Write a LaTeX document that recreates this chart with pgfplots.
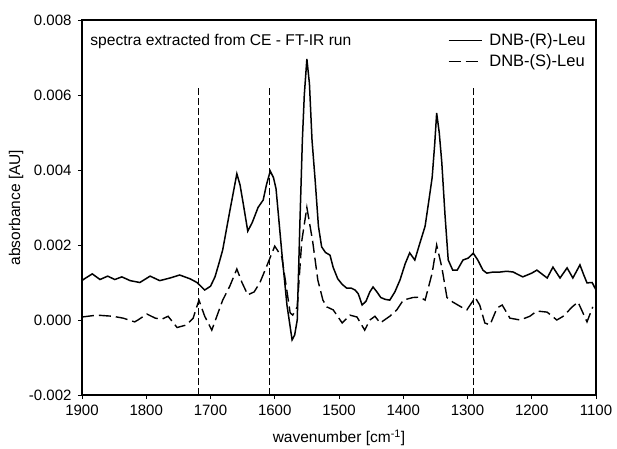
\documentclass[border=0pt]{standalone}
\usepackage{fontspec}
\setmainfont{Liberation Sans}
\usepackage{pgfplots}
\pgfplotsset{compat=1.18}
\begin{document}
\begin{tikzpicture}
\begin{axis}[
  scale only axis, width=514pt, height=375pt,
  xmin=1100, xmax=1900, x dir=reverse,
  ymin=-0.002, ymax=0.008,
  xtick={1100,1200,...,1900},
  ytick={-0.002,0,0.002,0.004,0.006,0.008},
  yticklabels={-0.002,0.000,0.002,0.004,0.006,0.008},
  scaled y ticks=false,
  /pgf/number format/1000 sep={},
  /pgf/number format/assume math mode=true,
  tick align=outside, tick pos=left, major tick length=4pt,
  tick style={black, line width=0.8pt},
  ticklabel style={font=\fontsize{15}{18}\selectfont},
  xticklabel style={yshift=-2pt},
  yticklabel style={xshift=-3pt},
  label style={font=\fontsize{15.5}{18}\selectfont},
  xlabel={wavenumber [cm\textsuperscript{-1}]},
  ylabel={absorbance [AU]},
  xlabel style={at={(axis description cs:0.5,-0.1147)}, anchor=center},
  ylabel style={at={(axis description cs:-0.128,0.5)}, anchor=center},
  axis line style={line width=1.1pt},
  legend style={draw=none, fill=none, at={(0.99,0.975)}, anchor=north east,
    font=\fontsize{16.5}{19}\selectfont, row sep=4pt},
  legend cell align=left,
  legend image code/.code={\draw[#1] (0pt,0pt) -- (33pt,0pt); \path (38pt,0pt);},
]
\addplot[black, line width=1.5pt] coordinates {
(1900,0.00105) (1897,0.00109) (1884,0.00123) (1872,0.00108) (1860,0.00117)
(1849,0.00108) (1838,0.00115) (1825,0.00105) (1810,0.00100) (1794,0.00117)
(1779,0.00105) (1763,0.00112) (1748,0.00120) (1732,0.00110) (1721,0.00100)
(1709,0.00080) (1700,0.00090) (1693,0.00115) (1687,0.00150) (1681,0.00187)
(1670,0.00290) (1659,0.00390) (1654,0.00360) (1649,0.00310) (1642,0.00237)
(1635,0.00260) (1626,0.00300) (1618,0.00320) (1613,0.00360) (1607,0.00397)
(1602,0.00380) (1598,0.00350) (1589,0.00180) (1581,0.00040) (1573,-0.00053)
(1569,-0.00040) (1565,0.00000) (1561,0.00250) (1557,0.00480) (1554,0.00600)
(1550,0.00696) (1546,0.00630) (1542,0.00480) (1537,0.00370) (1532,0.00250)
(1527,0.00195) (1521,0.00180) (1514,0.00173) (1509,0.00140) (1502,0.00110)
(1495,0.00095) (1488,0.00085) (1481,0.00085) (1475,0.00080) (1470,0.00070)
(1464,0.00040) (1458,0.00050) (1452,0.00075) (1447,0.00088) (1441,0.00075)
(1435,0.00060) (1428,0.00055) (1421,0.00053) (1413,0.00075) (1405,0.00107)
(1397,0.00150) (1390,0.00179) (1382,0.00160) (1375,0.00200) (1366,0.00250)
(1360,0.00320) (1355,0.00380) (1351,0.00470) (1348,0.00552) (1344,0.00500)
(1340,0.00420) (1335,0.00280) (1330,0.00160) (1323,0.00133) (1316,0.00133)
(1307,0.00160) (1299,0.00165) (1291,0.00178) (1284,0.00160) (1276,0.00133)
(1270,0.00125) (1260,0.00128) (1249,0.00128) (1239,0.00130) (1229,0.00128)
(1214,0.00115) (1200,0.00125) (1192,0.00133) (1176,0.00112) (1167,0.00141)
(1156,0.00112) (1145,0.00139) (1136,0.00112) (1125,0.00147) (1119,0.00120)
(1114,0.00099) (1106,0.00100) (1100,0.00080)
};
\addlegendentry{DNB-(R)-Leu}
\addplot[black, line width=1.4pt, dash pattern=on 12pt off 5pt] coordinates {
(1900,0.00008) (1877,0.00013) (1852,0.00010) (1836,0.00005) (1818,-0.00005)
(1813,0.00000) (1799,0.00016) (1786,0.00005) (1776,0.00002) (1766,0.00010)
(1752,-0.00020) (1737,-0.00013) (1727,0.00005) (1718,0.00053) (1709,0.00010)
(1698,-0.00027) (1681,0.00053) (1670,0.00090) (1659,0.00136) (1651,0.00100)
(1642,0.00067) (1632,0.00075) (1623,0.00100) (1611,0.00150) (1600,0.00197)
(1589,0.00168) (1583,0.00100) (1576,0.00019) (1572,0.00013) (1565,0.00035)
(1558,0.00210) (1550,0.00300) (1541,0.00210) (1533,0.00107) (1525,0.00053)
(1519,0.00035) (1509,0.00027) (1495,-0.00008) (1483,0.00013) (1472,0.00008)
(1460,-0.00027) (1452,0.00000) (1444,0.00010) (1436,-0.00008) (1421,0.00010)
(1410,0.00027) (1400,0.00053) (1385,0.00060) (1374,0.00061) (1366,0.00053)
(1355,0.00125) (1348,0.00200) (1340,0.00141) (1332,0.00060) (1323,0.00048)
(1307,0.00032) (1301,0.00027) (1288,0.00060) (1281,0.00040) (1273,-0.00008)
(1265,-0.00013) (1254,0.00032) (1246,0.00040) (1234,0.00005) (1218,0.00000)
(1203,0.00010) (1192,0.00024) (1176,0.00021) (1161,0.00000) (1151,0.00010)
(1137,0.00035) (1128,0.00048) (1114,-0.00005) (1105,0.00035)
};
\addlegendentry{DNB-(S)-Leu}
\addplot[forget plot, black, line width=1.1pt, dash pattern=on 7pt off 3pt] coordinates {(1718,-0.002) (1718,0.0062)};
\addplot[forget plot, black, line width=1.1pt, dash pattern=on 7pt off 3pt] coordinates {(1608,-0.002) (1608,0.0062)};
\addplot[forget plot, black, line width=1.1pt, dash pattern=on 7pt off 3pt] coordinates {(1290,-0.002) (1290,0.0062)};
\node[anchor=north west, font=\fontsize{15.6}{18}\selectfont, inner sep=0pt] at (axis description cs:0.016,0.962) {spectra extracted from CE - FT-IR run};
\end{axis}
\pgfresetboundingbox
\path ([xshift=-82pt,yshift=-53pt]current axis.south west) rectangle ([xshift=21pt,yshift=20pt]current axis.north east);
\end{tikzpicture}
\end{document}
